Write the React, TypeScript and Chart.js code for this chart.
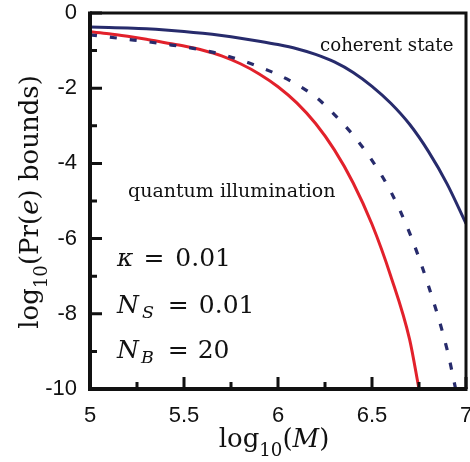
import { useEffect, useRef } from "react";
import { Chart, registerables } from "chart.js";

Chart.register(...registerables);

// log10(M) samples and log10(Pr(e) bounds) values
const xCoherent = [5.0, 5.1, 5.2, 5.3, 5.4, 5.5, 5.6, 5.7, 5.8, 5.9, 6.0, 6.1, 6.2, 6.3, 6.4, 6.5, 6.6, 6.7, 6.8, 6.9, 7.0];
const yCoherent = [-0.37, -0.385, -0.4, -0.42, -0.45, -0.49, -0.54, -0.6, -0.67, -0.75, -0.84, -0.95, -1.1, -1.3, -1.58, -1.95, -2.4, -2.96, -3.68, -4.55, -5.6];

const xBound = [5.0, 5.1, 5.2, 5.3, 5.4, 5.5, 5.6, 5.7, 5.8, 5.9, 6.0, 6.1, 6.2, 6.3, 6.4, 6.5, 6.6, 6.7, 6.8, 6.9, 6.945];
const yBound = [-0.58, -0.64, -0.7, -0.76, -0.83, -0.9, -0.99, -1.1, -1.25, -1.43, -1.64, -1.9, -2.23, -2.7, -3.25, -3.92, -4.75, -5.85, -7.25, -8.96, -10.0];

const xQI = [5.0, 5.1, 5.2, 5.3, 5.4, 5.5, 5.6, 5.7, 5.8, 5.9, 6.0, 6.1, 6.2, 6.3, 6.4, 6.5, 6.6, 6.7, 6.75];
const yQI = [-0.5, -0.55, -0.62, -0.7, -0.79, -0.88, -0.99, -1.14, -1.35, -1.62, -1.96, -2.39, -2.94, -3.64, -4.52, -5.62, -7.0, -8.68, -10.0];

const xMajorTicks = [5, 5.5, 6, 6.5, 7];
const xMinorTicks = [5.25, 5.75, 6.25, 6.75];
const yMajorTicks = [0, -2, -4, -6, -8, -10];
const yMinorTicks = [-1, -3, -5, -7, -9];

const NAVY = "#272b6c";
const RED = "#e2212b";
const SERIF = "'DejaVu Serif', serif";

type Seg = { t: string; it?: boolean; sub?: number; gap?: number };

function drawRich(ctx: CanvasRenderingContext2D, segs: Seg[], x: number, y: number, size: number, align: "left" | "center") {
  const parts = segs.map((s) => {
    const fs = s.sub !== undefined ? size * 0.7 : size;
    const font = `${s.it ? "italic " : ""}${fs}px ${SERIF}`;
    ctx.font = font;
    return { ...s, font, w: ctx.measureText(s.t).width, g: s.gap || 0, dy: s.sub !== undefined ? size * s.sub : 0 };
  });
  const total = parts.reduce((a, p) => a + p.w + p.g, 0);
  let cx = align === "center" ? x - total / 2 : x;
  ctx.textAlign = "left";
  ctx.textBaseline = "alphabetic";
  for (const p of parts) {
    cx += p.g;
    ctx.font = p.font;
    ctx.fillText(p.t, cx, y + p.dy);
    cx += p.w;
  }
}

const framePlugin = {
  id: "frameTicks",
  afterDatasetsDraw(chart: any) {
    const { ctx, chartArea: a, scales } = chart;
    const xs = scales.x;
    const ys = scales.y;
    ctx.save();
    ctx.strokeStyle = "#111";
    ctx.lineCap = "butt";
    ctx.lineWidth = 3;
    ctx.beginPath();
    ctx.moveTo(a.left, a.top);
    ctx.lineTo(a.right, a.top);
    ctx.lineTo(a.right, a.bottom);
    ctx.stroke();
    ctx.lineWidth = 4;
    ctx.beginPath();
    ctx.moveTo(a.left, a.top - 1.5);
    ctx.lineTo(a.left, a.bottom);
    ctx.lineTo(a.right + 1.5, a.bottom);
    ctx.stroke();
    ctx.lineWidth = 3;
    ctx.beginPath();
    for (const v of xMajorTicks) {
      const px = xs.getPixelForValue(v);
      ctx.moveTo(px, a.bottom);
      ctx.lineTo(px, a.bottom - 12);
    }
    for (const v of xMinorTicks) {
      const px = xs.getPixelForValue(v);
      ctx.moveTo(px, a.bottom);
      ctx.lineTo(px, a.bottom - 7);
    }
    for (const v of yMajorTicks) {
      const py = ys.getPixelForValue(v);
      ctx.moveTo(a.left, py);
      ctx.lineTo(a.left + 12, py);
    }
    for (const v of yMinorTicks) {
      const py = ys.getPixelForValue(v);
      ctx.moveTo(a.left, py);
      ctx.lineTo(a.left + 7, py);
    }
    ctx.stroke();
    ctx.restore();
  },
  afterDraw(chart: any) {
    const { ctx } = chart;
    ctx.save();
    ctx.fillStyle = "#111";
    drawRich(ctx, [{ t: "log" }, { t: "10", sub: 0.36 }, { t: "(" }, { t: "M", it: true }, { t: ")" }], 274, 447, 26, "center");
    ctx.save();
    ctx.translate(38, 202);
    ctx.rotate(-Math.PI / 2);
    drawRich(ctx, [{ t: "log" }, { t: "10", sub: 0.36 }, { t: "(Pr(" }, { t: "e", it: true }, { t: ") bounds)" }], 0, 0, 26, "center");
    ctx.restore();
    drawRich(ctx, [{ t: "coherent state" }], 320, 51, 18.2, "left");
    drawRich(ctx, [{ t: "quantum illumination" }], 128, 197, 19, "left");
    drawRich(ctx, [{ t: "κ", it: true }, { t: "=", gap: 10 }, { t: "0.01", gap: 11 }], 117, 266, 25, "left");
    drawRich(ctx, [{ t: "N", it: true }, { t: "S", it: true, sub: 0.2, gap: 3 }, { t: "=", gap: 14 }, { t: "0.01", gap: 10 }], 117, 313, 25, "left");
    drawRich(ctx, [{ t: "N", it: true }, { t: "B", it: true, sub: 0.2, gap: 2 }, { t: "=", gap: 14 }, { t: "20", gap: 9 }], 117, 358, 25, "left");
    ctx.restore();
  },
};

export default function App() {
  const ref = useRef<HTMLCanvasElement>(null);
  useEffect(() => {
    const toPts = (xs: number[], ys: number[]) => xs.map((x, i) => ({ x, y: ys[i] }));
    const chart = new Chart(ref.current!, {
      type: "line",
      data: {
        datasets: [
          { data: toPts(xCoherent, yCoherent), borderColor: NAVY, borderWidth: 3, pointRadius: 0, cubicInterpolationMode: "monotone", fill: false },
          { data: toPts(xBound, yBound), borderColor: NAVY, borderWidth: 3.2, borderDash: [7, 13], pointRadius: 0, cubicInterpolationMode: "monotone", fill: false },
          { data: toPts(xQI, yQI), borderColor: RED, borderWidth: 3, pointRadius: 0, cubicInterpolationMode: "monotone", fill: false },
        ],
      },
      options: {
        responsive: false,
        animation: false,
        events: [],
        layout: { padding: { left: 0, top: 13, right: 4, bottom: 0 } },
        plugins: { legend: { display: false }, tooltip: { enabled: false } },
        scales: {
          x: {
            type: "linear",
            min: 5,
            max: 7,
            afterFit: (s: any) => { s.height = 73; s.paddingLeft = 0; s.paddingRight = 0; },
            grid: { display: false, drawTicks: false },
            border: { display: false },
            ticks: {
              stepSize: 0.5,
              padding: 14,
              color: "#111",
              font: { family: "'Liberation Sans', Arial, sans-serif", size: 22 },
              callback: (v: any) => String(v),
            },
          },
          y: {
            type: "linear",
            min: -10,
            max: 0,
            afterFit: (s: any) => { s.width = 90; s.paddingTop = 0; s.paddingBottom = 0; },
            grid: { display: false, drawTicks: false },
            border: { display: false },
            ticks: {
              stepSize: 2,
              padding: 13,
              color: "#111",
              font: { family: "'Liberation Sans', Arial, sans-serif", size: 22 },
              callback: (v: any) => String(v),
            },
          },
        },
      },
      plugins: [framePlugin],
    });
    return () => chart.destroy();
  }, []);
  return (
    <div style={{ position: "fixed", left: 0, top: 0, width: 470, height: 462, background: "#fff" }}>
      <canvas ref={ref} width={470} height={462} style={{ display: "block" }} />
    </div>
  );
}
